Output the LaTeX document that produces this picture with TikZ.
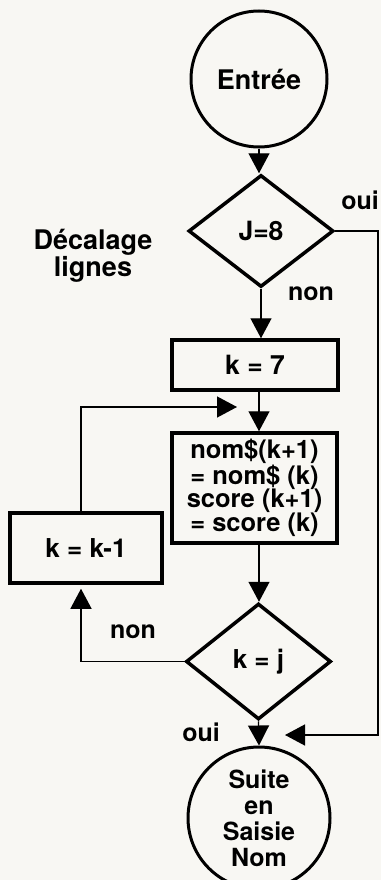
\documentclass[tikz,border=0pt]{standalone}
\usepackage{fontspec}
\setmainfont{TeX Gyre Heros}
\usetikzlibrary{shapes.geometric,arrows.meta}
\definecolor{paper}{RGB}{248,247,243}
\begin{document}
\begin{tikzpicture}[x=1pt,y=-1pt,
  lbl/.style={font=\fontsize{25}{24}\selectfont\bfseries, inner sep=0pt, align=center},
  term/.style={circle, draw, line width=3pt, inner sep=0pt, align=center, font=\fontsize{25}{26}\selectfont\bfseries},
  decision/.style={diamond, draw, line width=3.5pt, minimum width=145pt, minimum height=112pt, inner sep=0pt, font=\fontsize{26.5}{26}\selectfont\bfseries},
  procbox/.style={rectangle, draw, line width=3.5pt, inner sep=0pt, align=center, font=\fontsize{26}{26}\selectfont\bfseries},
  flow/.style={line width=1.3pt, -{Triangle[length=20pt,width=21pt]}}
]
\fill[paper] (0,0) rectangle (381,880);
\useasboundingbox (0,0) rectangle (381,880);

\node[term, minimum size=136pt, font=\fontsize{27}{27}\selectfont\bfseries] (entree) at (259,79) {Entrée};
\node[decision] (j8) at (261,231) {J=8};
\node[lbl, font=\fontsize{27}{24}\selectfont\bfseries] (dec) at (93,256) {Décalage\\lignes};
\node[lbl] (oui1) at (360,200) {oui};
\node[lbl] (non1) at (311,294) {non};
\node[procbox, minimum width=166pt, minimum height=50pt, font=\fontsize{26.5}{26}\selectfont\bfseries] (k7) at (255,365) {k = 7};
\node[procbox, minimum width=165pt, minimum height=110pt, font=\fontsize{25.5}{23.8}\selectfont\bfseries] (sh) at (254.5,488) {nom\$(k+1)\\= nom\$ (k)\\score (k+1)\\= score (k)};
\node[procbox, minimum width=152pt, minimum height=70pt] (km1) at (86,548) {k = k-1};
\node[decision, minimum height=116pt, font=\fontsize{26}{26}\selectfont\bfseries] (kj) at (258.5,661.5) {k = j};
\node[lbl] (non2) at (133,632) {non};
\node[lbl] (oui2) at (201,732) {oui};
\node[term, minimum size=142pt] (fin) at (259,818) {Suite\\en\\Saisie\\Nom};

\coordinate (ax) at (259,0);
\coordinate (fb) at (237,407);
\coordinate (rc) at (378,735);
\coordinate (rt) at (285,735);

\draw[flow] (entree.south) -- (entree.south |- j8.north);
\draw[flow] (j8.south) -- (j8.south |- k7.north);
\draw[flow] (k7.south -| ax) -- (sh.north -| ax);
\draw[flow] (sh.south -| ax) -- (kj.north -| ax);
\draw[flow] (kj.south) -- (fin.north);
\draw[flow] ([xshift=-5pt]km1.north) |- (fb);
\draw[flow, shorten >=4pt] (kj.west) -| ([xshift=-5pt]km1.south);
\draw[flow] (j8.east) -| (rc) -- (rt);
\end{tikzpicture}
\end{document}
